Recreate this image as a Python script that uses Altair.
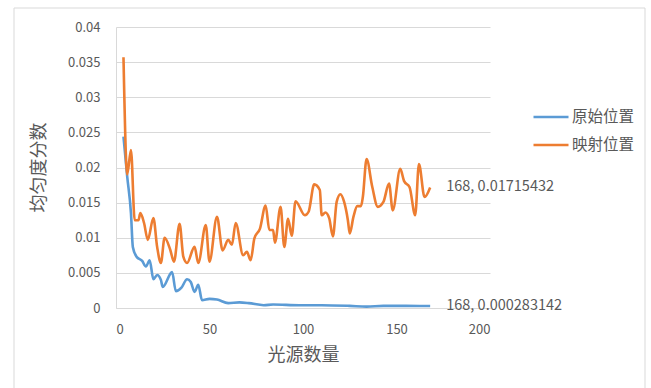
import altair as alt
import pandas as pd

# ---- data ----
series_names = ["原始位置", "映射位置"]

orig_x = [4, 6, 8, 9, 11, 14, 16, 18, 20, 22, 24, 25, 30, 32, 35, 38, 40, 42, 44, 46,
          50, 54, 60, 66, 71, 79, 84, 98, 110, 125, 134, 143, 155, 168]
orig_y = [0.0244, 0.0187, 0.0135, 0.0087, 0.0073, 0.0067, 0.0059, 0.0068, 0.0041, 0.0047,
          0.0040, 0.0030, 0.0051, 0.0024, 0.0029, 0.0041, 0.0037, 0.0023, 0.0033, 0.0011,
          0.0013, 0.0012, 0.0007, 0.0008, 0.0007, 0.0004, 0.0005, 0.0004, 0.0004, 0.0003,
          0.0002, 0.0003, 0.0003, 0.000283142]

map_x = [4, 6, 8, 10, 12, 13, 15, 17, 20, 22, 24, 26, 29, 31, 34, 36, 38, 42, 44, 48,
         50, 54, 57, 60, 62, 64, 68, 70, 72, 74, 77, 80, 82, 84, 85, 88, 90, 92, 94, 96,
         101, 103, 106, 109, 110, 112, 114, 116, 118, 120, 122, 124, 125, 127, 129, 131,
         132, 134, 137, 140, 143, 146, 148, 152, 154, 157, 160, 162, 165, 168]
map_y = [0.0357, 0.0190, 0.0225, 0.0125, 0.0125, 0.0135, 0.0121, 0.0097, 0.0128, 0.0087,
         0.0064, 0.0100, 0.0083, 0.0066, 0.0120, 0.0073, 0.0064, 0.0087, 0.0064, 0.0118,
         0.0066, 0.0130, 0.0082, 0.0097, 0.0090, 0.0121, 0.0075, 0.0080, 0.0068, 0.0099,
         0.0113, 0.0146, 0.0111, 0.0111, 0.0093, 0.0144, 0.0087, 0.0127, 0.0103, 0.0152,
         0.0132, 0.0137, 0.0176, 0.0168, 0.0132, 0.0136, 0.0128, 0.0102, 0.0151, 0.0162,
         0.0151, 0.0125, 0.0106, 0.0130, 0.0145, 0.0145, 0.0158, 0.0212, 0.0173, 0.0144,
         0.0151, 0.0177, 0.0139, 0.0198, 0.0181, 0.0172, 0.0132, 0.0205, 0.0158, 0.01715432]

label_x = [168, 168]
label_y = [0.000283142, 0.01715432]
label_text = ["168, 0.000283142", "168, 0.01715432"]

x_ticks = [0, 50, 100, 150, 200]
y_ticks = [0, 0.005, 0.01, 0.015, 0.02, 0.025, 0.03, 0.035, 0.04]

x_title = "光源数量"
y_title = "均匀度分数"

colors = ["#5B9BD5", "#ED7D31"]
FONT = "Noto Sans CJK SC"
GREY = "#595959"

df = pd.concat([
    pd.DataFrame({"x": orig_x, "y": orig_y, "s": series_names[0]}),
    pd.DataFrame({"x": map_x, "y": map_y, "s": series_names[1]}),
])
lab = pd.DataFrame({"x": label_x, "y": label_y, "t": label_text})

xs = alt.Scale(domain=[0, 200], nice=False)
ys = alt.Scale(domain=[0, 0.04], nice=False)

frame = alt.Chart(pd.DataFrame({"a": [0]})).mark_rect(
    fill="white", fillOpacity=0, stroke="#d9d9d9", strokeWidth=1
).encode(
    x=alt.value(-102), x2=alt.value(529), y=alt.value(-19), y2=alt.value(400)
)

lines = alt.Chart(df).mark_line(strokeWidth=2.6, interpolate="monotone").encode(
    x=alt.X("x:Q", scale=xs,
            axis=alt.Axis(values=x_ticks, tickCount=10, grid=False, ticks=False,
                          domainColor="#d9d9d9", labelOverlap=False,
                          labelColor=GREY, labelFontSize=13, labelFont=FONT, labelPadding=15,
                          title=x_title, titleFont=FONT, titleFontSize=18, titleColor=GREY,
                          titleFontWeight="normal", titleY=47, titleBaseline="middle")),
    y=alt.Y("y:Q", scale=ys,
            axis=alt.Axis(values=y_ticks, tickCount=20, format="~g", grid=True,
                          gridColor="#d9d9d9", labelOverlap=False,
                          ticks=False, domainColor="#d9d9d9",
                          labelColor=GREY, labelFontSize=13, labelFont=FONT, labelPadding=16,
                          title=y_title, titleFont=FONT, titleFontSize=18, titleColor=GREY,
                          titleFontWeight="normal", titleAngle=270, titleAlign="center",
                          titleBaseline="middle", titleX=-77, titleY=140)),
    color=alt.Color("s:N", scale=alt.Scale(domain=series_names, range=colors),
                    legend=alt.Legend(title=None, orient="none", legendX=416, legendY=71,
                                      symbolType="stroke", symbolSize=1225,
                                      symbolStrokeWidth=2.6, labelFont=FONT,
                                      labelFontSize=15.5, labelColor=GREY, rowPadding=-3,
                                      labelOffset=2)),
    order=alt.Order("x:Q"),
)

labels = alt.Chart(lab).mark_text(align="left", baseline="middle", dx=16, font=FONT,
                                   fontSize=14.5, color=GREY).encode(
    x=alt.X("x:Q", scale=xs), y=alt.Y("y:Q", scale=ys), text="t:N"
)

chart = alt.layer(frame, lines, labels).properties(
    width=374, height=281,
    autosize=alt.AutoSizeParams(type="none"),
    padding={"left": 116, "top": 27, "right": 161, "bottom": 80},
    background="white",
).configure_view(stroke=None)

chart.save("out.html", embed_options={"renderer": "svg", "actions": False})
